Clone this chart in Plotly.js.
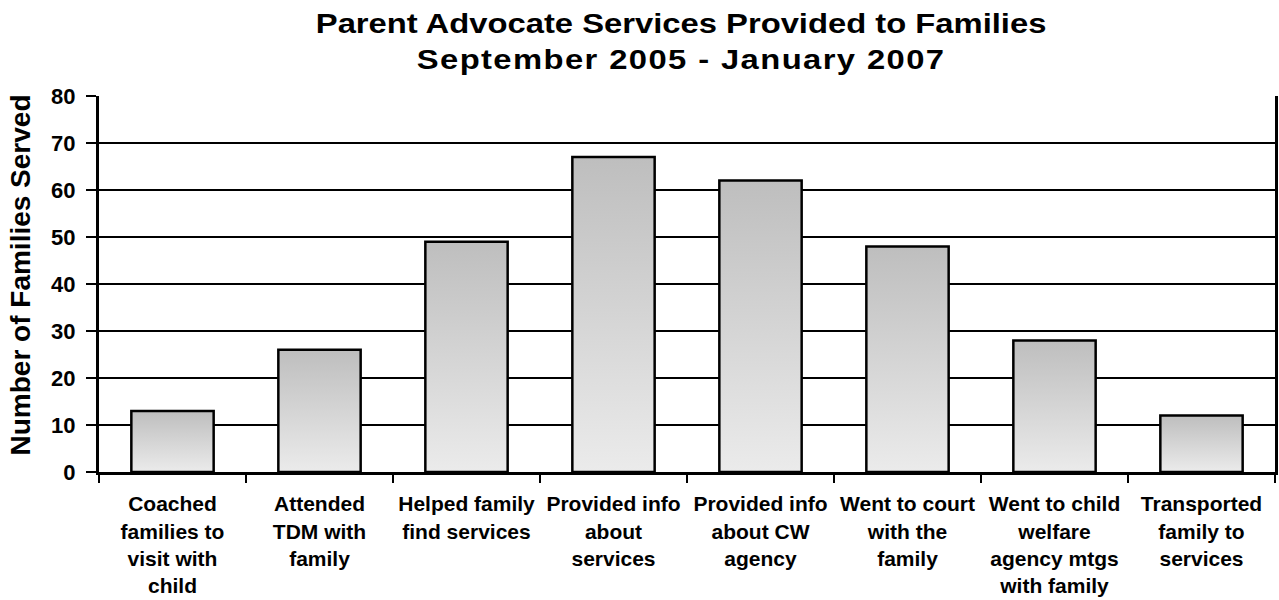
<!DOCTYPE html>
<html>
<head>
<meta charset="utf-8">
<script src="https://cdn.plot.ly/plotly-3.0.1.min.js"></script>
<style>
html,body{margin:0;padding:0;background:#fff;}
#chart{width:1279px;height:600px;}
</style>
</head>
<body>
<div id="chart"></div>
<script>
const categories = [
  "Coached<br>families to<br>visit with<br>child",
  "Attended<br>TDM with<br>family",
  "Helped family<br>find services",
  "Provided info<br>about<br>services",
  "Provided info<br>about CW<br>agency",
  "Went to court<br>with the<br>family",
  "Went to child<br>welfare<br>agency mtgs<br>with family",
  "Transported<br>family to<br>services"
];
const familiesServed = [13, 26, 49, 67, 62, 48, 28, 12];
const yTickValues = [0, 10, 20, 30, 40, 50, 60, 70, 80];

const FONT = "Liberation Sans, Arial, sans-serif";

const trace = {
  type: "bar",
  x: categories,
  y: familiesServed,
  marker: {color: "#d6d6d6", line: {color: "#000", width: 2.5}},
  hoverinfo: "skip"
};

const layout = {
  width: 1279, height: 600,
  paper_bgcolor: "#fff", plot_bgcolor: "#fff",
  margin: {l: 99, r: 4, t: 96, b: 128},
  showlegend: false,
  bargap: 0.44,
  font: {family: FONT, color: "#000"},
  title: {
    text: "<b>Parent Advocate Services Provided to Families<br>September 2005 - January 2007</b>",
    font: {family: FONT, size: 28, color: "#000"},
    xref: "paper", x: 0.495, xanchor: "center",
    yref: "container", y: 0.945, yanchor: "middle"
  },
  xaxis: {
    type: "category",
    showline: true, linecolor: "#000", linewidth: 3,
    ticks: "outside", tickson: "boundaries", ticklen: 8, tickwidth: 2.5, tickcolor: "#000",
    tickfont: {family: FONT, size: 21, color: "#000"},
    tickangle: 0,
    showgrid: false, zeroline: false,
    ticklabelstandoff: 11
  },
  yaxis: {
    range: [0, 80],
    tickvals: yTickValues,
    ticktext: yTickValues.map(v => "<b>" + v + "</b>"),
    showline: true, linecolor: "#000", linewidth: 3, mirror: true,
    ticks: "outside", ticklen: 10, tickwidth: 2.5, tickcolor: "#000",
    tickfont: {family: FONT, size: 22, color: "#000"},
    showgrid: true, gridcolor: "#000", gridwidth: 2.5,
    zeroline: false,
    ticklabelstandoff: 6,
    title: {
      text: "<b>Number of Families Served</b>",
      font: {family: FONT, size: 28, color: "#000"},
      standoff: 12
    }
  }
};

layout.xaxis.ticktext = categories.map(c => "<b>" + c.split("<br>").join("</b><br><b>") + "</b>");
layout.xaxis.tickvals = categories;

Plotly.newPlot("chart", [trace], layout, {staticPlot: true, displayModeBar: false}).then(function (gd) {
  const svg = gd.querySelector("svg.main-svg");
  const ns = "http://www.w3.org/2000/svg";
  let defs = svg.querySelector("defs");
  if (!defs) { defs = document.createElementNS(ns, "defs"); svg.insertBefore(defs, svg.firstChild); }
  const lg = document.createElementNS(ns, "linearGradient");
  lg.setAttribute("id", "barGrad");
  lg.setAttribute("x1", "0"); lg.setAttribute("y1", "0");
  lg.setAttribute("x2", "0"); lg.setAttribute("y2", "1");
  [["0", "#bebebe"], ["1", "#ebebeb"]].forEach(function (s) {
    const st = document.createElementNS(ns, "stop");
    st.setAttribute("offset", s[0]);
    st.setAttribute("stop-color", s[1]);
    lg.appendChild(st);
  });
  defs.appendChild(lg);
  gd.querySelectorAll(".barlayer .point path").forEach(function (p) {
    p.style.fill = "url(#barGrad)";
  });
  // widen the title horizontally like the reference
  const t = gd.querySelector(".gtitle");
  if (t) {
    const cx = parseFloat(t.getAttribute("x")) || 681;
    t.setAttribute("transform", "translate(" + cx + ",0) scale(1.17,1) translate(" + (-cx) + ",0)");
    const lines = t.querySelectorAll("tspan.line");
    if (lines.length > 1) lines[1].style.letterSpacing = "1.2px";
  }
  const yt = gd.querySelector(".ytitle");
  if (yt) {
    const prev = yt.getAttribute("transform") || "";
    yt.setAttribute("transform", "translate(-1,-9) " + prev);
  }
});
</script>
</body>
</html>
